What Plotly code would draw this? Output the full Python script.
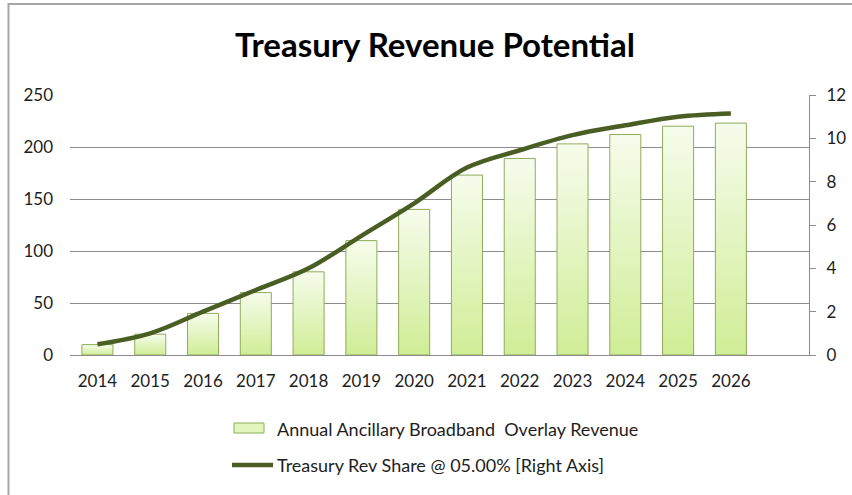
import plotly.graph_objects as go

# ---- data ----
years = [2014, 2015, 2016, 2017, 2018, 2019, 2020, 2021, 2022, 2023, 2024, 2025, 2026]
overlay_revenue = [10, 20, 40, 60, 80, 110, 140, 173, 189, 203, 212, 220, 223]
treasury_share = [0.5, 1.0, 2.0, 3.0, 4.0, 5.5, 7.0, 8.65, 9.45, 10.15, 10.6, 11.0, 11.15]
left_ticks = [0, 50, 100, 150, 200, 250]
right_ticks = [0, 2, 4, 6, 8, 10, 12]

bar_name = "Annual Ancillary Broadband  Overlay Revenue"
line_name = "Treasury Rev Share @ 05.00% [Right Axis]"

# ---- styling ----
W, H = 852, 495
ML, MR, MT, MB = 70, 43, 95, 140
PW, PH = W - ML - MR, H - MT - MB
FONT = "Lato"
TXT = "#1e1e1e"
GRID = "#8c8c8c"
BAR_EDGE = "#8eac5a"
BAR_LIGHT = "#f6fcec"
BAR_GREEN = "#d0ed96"
LINE_COL = "#4a5e24"
HALF_W = 0.294
X_PAD_LEFT, X_PAD_RIGHT = 0.52, 1.48


def px_x(px):
    return (px - ML) / PW


def px_y(py):
    return (H - MB - py) / PH


fig = go.Figure()

# bars drawn as filled rectangles with a vertical gradient (green at the base)
for yr, val in zip(years, overlay_revenue):
    fig.add_trace(go.Scatter(
        x=[yr - HALF_W, yr - HALF_W, yr + HALF_W, yr + HALF_W, yr - HALF_W],
        y=[0, val, val, 0, 0],
        mode="lines",
        fill="toself",
        fillgradient=dict(type="vertical",
                          colorscale=[[0, BAR_GREEN], [1, BAR_LIGHT]]),
        line=dict(color=BAR_EDGE, width=1),
        hoverinfo="skip",
        showlegend=False,
        yaxis="y",
    ))

# revenue share on the secondary axis
fig.add_trace(go.Scatter(
    x=years, y=treasury_share, yaxis="y2",
    mode="lines",
    line=dict(color=LINE_COL, width=4.5, shape="spline", smoothing=1.0),
    name=line_name, showlegend=False,
))

fig.update_layout(
    width=W, height=H,
    margin=dict(l=ML, r=MR, t=MT, b=MB, autoexpand=False),
    paper_bgcolor="white", plot_bgcolor="white",
    font=dict(family=FONT, size=16, color=TXT),
    title=dict(text="<b>Treasury Revenue Potential</b>",
               font=dict(family=FONT, size=33, color="#000000"),
               x=435 / W, xanchor="center", xref="container",
               y=1 - 45 / H, yanchor="middle", yref="container"),
    xaxis=dict(range=[min(years) - X_PAD_LEFT, max(years) + X_PAD_RIGHT],
               tickmode="array", tickvals=years,
               ticktext=[str(y) for y in years],
               showgrid=False, zeroline=False, automargin=False,
               showline=True, linecolor=GRID, linewidth=1,
               ticks="", ticklabelstandoff=11,
               tickfont=dict(family=FONT, size=17, color=TXT)),
    yaxis=dict(range=[0, 250], tickvals=left_ticks,
               showgrid=True, gridcolor=GRID, gridwidth=1,
               zeroline=False, showline=False, ticks="", automargin=False,
               ticklabelstandoff=16,
               tickfont=dict(family=FONT, size=17, color=TXT)),
    yaxis2=dict(range=[0, 12], tickvals=right_ticks,
                overlaying="y", side="right", showgrid=False,
                zeroline=False, showline=True, linecolor=GRID, linewidth=1,
                ticks="outside", ticklen=6, tickcolor=GRID, automargin=False,
                ticklabelstandoff=7,
                tickfont=dict(family=FONT, size=17, color=TXT)),
)

# outer chart frame
fig.add_shape(type="rect", xref="paper", yref="paper",
              x0=px_x(8.5), x1=px_x(W + 5), y0=px_y(H + 5), y1=px_y(4),
              line=dict(color="#a6a6a6", width=2), fillcolor="rgba(0,0,0,0)",
              layer="below")

# legend swatches and labels
fig.add_shape(type="rect", xref="paper", yref="paper",
              x0=px_x(234), x1=px_x(264), y0=px_y(433), y1=px_y(423),
              line=dict(color=BAR_EDGE, width=1), fillcolor="#e2f5bd")
fig.add_shape(type="line", xref="paper", yref="paper",
              x0=px_x(232), x1=px_x(273), y0=px_y(465), y1=px_y(465),
              line=dict(color=LINE_COL, width=4.5))
for label, cy in [(bar_name, 429), (line_name, 465)]:
    fig.add_annotation(text=label, xref="paper", yref="paper",
                       x=px_x(275), y=px_y(cy), xanchor="left", yanchor="middle",
                       showarrow=False,
                       font=dict(family=FONT, size=18, color=TXT))

fig.write_html("out.html")
